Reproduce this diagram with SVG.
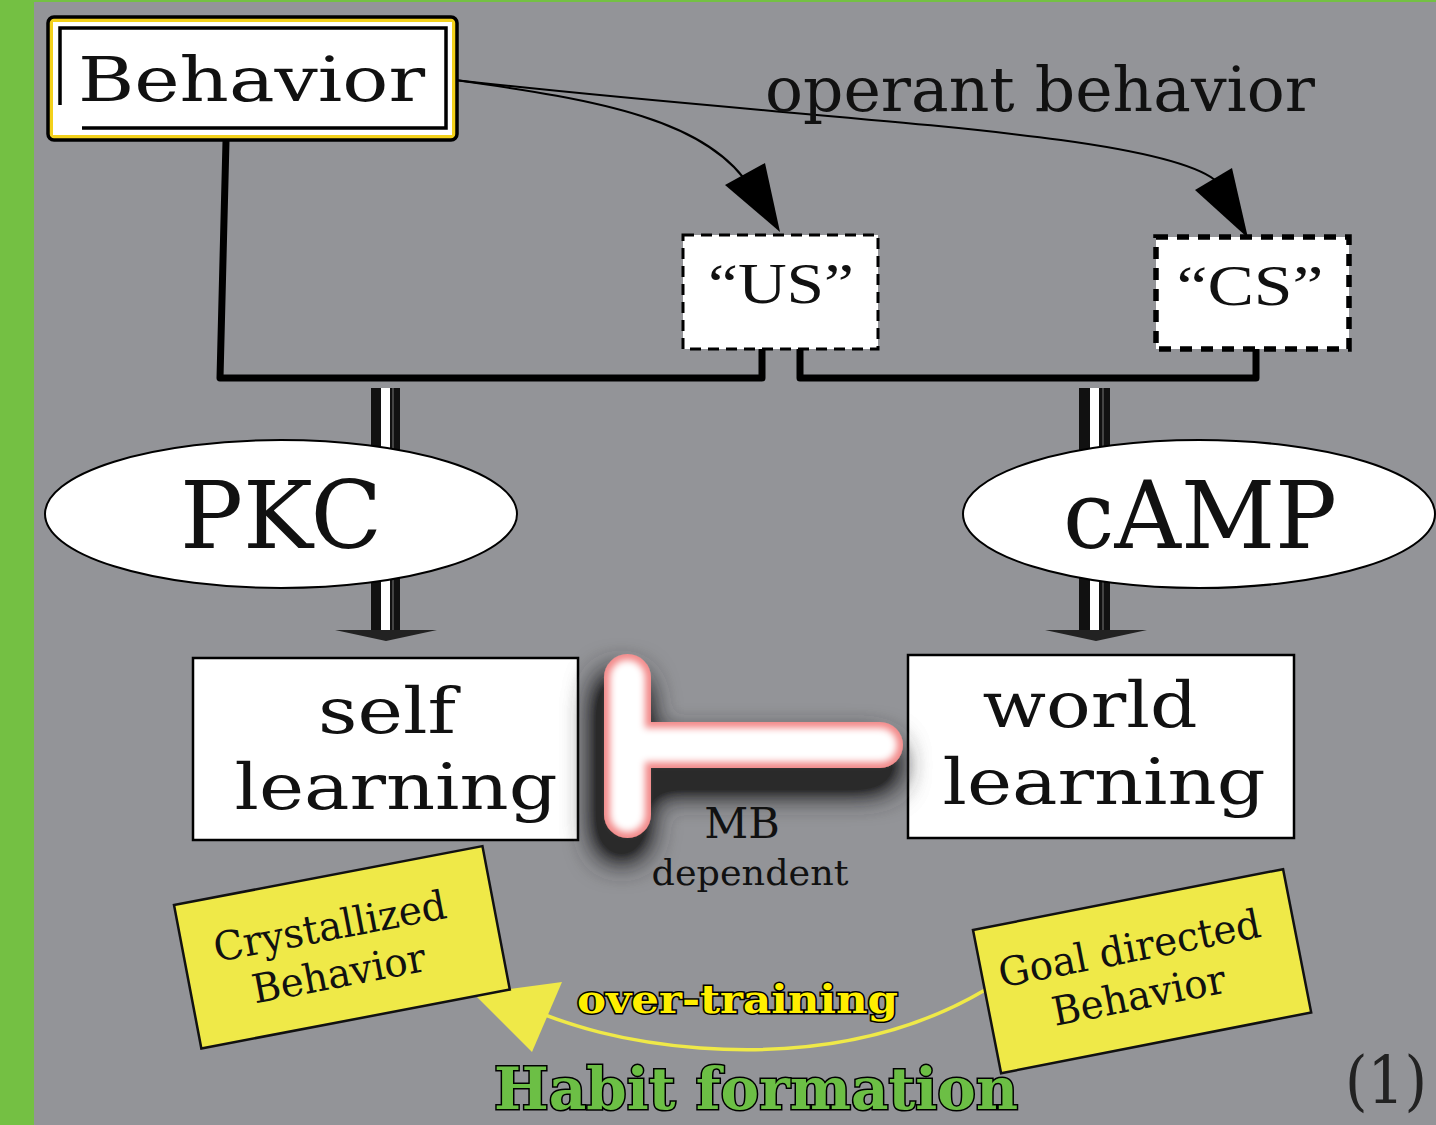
<svg xmlns="http://www.w3.org/2000/svg" width="1436" height="1125" viewBox="0 0 1436 1125">
<defs>
<style>
.serif{font-family:"DejaVu Serif","Liberation Serif",serif;fill:#111}
.times{font-family:"Liberation Serif","DejaVu Serif",serif;fill:#111}
.box{fill:#fff;stroke:#000;stroke-width:2.5}
.wire{fill:none;stroke:#000;stroke-width:7;stroke-linejoin:round;stroke-linecap:round}
.yel{fill:#efe948;stroke:#111;stroke-width:2.5}
</style>
<filter id="shadow" x="-60%" y="-60%" width="220%" height="220%">
<feGaussianBlur in="SourceAlpha" stdDeviation="16"/>
<feOffset dx="-6" dy="20" result="o"/>
<feComponentTransfer in="o" result="b"><feFuncA type="linear" slope="2.2"/></feComponentTransfer>
<feFlood flood-color="#2a2a2c" flood-opacity="1"/>
<feComposite in2="b" operator="in"/>
<feMerge><feMergeNode/><feMergeNode in="SourceGraphic"/></feMerge>
</filter>
<filter id="glow" x="-20%" y="-20%" width="140%" height="140%">
<feGaussianBlur stdDeviation="3.5"/>
</filter>
</defs>
<rect x="0" y="0" width="1436" height="1125" fill="#74c043"/>
<rect x="34" y="2" width="1402" height="1123" fill="#939498"/>

<g id="connectors">
<path class="wire" d="M226,141 L220,378 L762,378 L762,350"/>
<path class="wire" d="M800,350 L800,378 L1256,378 L1256,350"/>
<path d="M455,80 C600,100 710,120 752,190" fill="none" stroke="#000" stroke-width="2"/>
<polygon points="725,185 765,163 780,232" fill="#000"/>
<path d="M455,80 C800,120 1150,130 1215,180" fill="none" stroke="#000" stroke-width="2"/>
<polygon points="1195,190 1232,168 1248,238" fill="#000"/>
<g id="arrowPKC">
<rect x="371" y="388" width="29" height="242" fill="#111"/>
<rect x="381" y="388" width="9" height="242" fill="#fff"/>
<line x1="393" y1="388" x2="393" y2="630" stroke="#777" stroke-width="1"/>
<polygon points="335,630 437,630 386,641" fill="#222"/>
</g>
<g id="arrowCAMP">
<rect x="1079" y="388" width="31" height="242" fill="#111"/>
<rect x="1090" y="388" width="9" height="242" fill="#fff"/>
<line x1="1103" y1="388" x2="1103" y2="630" stroke="#777" stroke-width="1"/>
<polygon points="1045,630 1147,630 1096,641" fill="#222"/>
</g>
<path d="M985,990 C900,1040 800,1055 700,1048 C620,1042 570,1025 532,1010" fill="none" stroke="#efe948" stroke-width="3.5"/>
<polygon points="474,994 562,982 532,1052" fill="#efe948"/>
</g>

<g id="behavior">
<rect x="48" y="17" width="409" height="123" rx="6" fill="#f3d11b" stroke="#000" stroke-width="3.5"/>
<rect x="53" y="22" width="399" height="113" fill="#fff"/>
<path d="M60,105 L60,28 L446,28 L446,128 L82,128" fill="none" stroke="#000" stroke-width="3.5"/>
<text class="serif" x="78" y="101" font-size="62" textLength="347" lengthAdjust="spacingAndGlyphs">Behavior</text>
</g>

<text id="operant" class="serif" x="765" y="111" font-size="62" textLength="550" lengthAdjust="spacingAndGlyphs">operant behavior</text>

<g id="us">
<rect x="683" y="235" width="195" height="114" fill="#fff" stroke="#000" stroke-width="3" stroke-dasharray="11,7"/>
<text class="times" x="781" y="303" font-size="57" text-anchor="middle" textLength="146" lengthAdjust="spacingAndGlyphs">“US”</text>
</g>
<g id="cs">
<rect x="1156" y="237" width="193" height="112" fill="#fff" stroke="#000" stroke-width="5.5" stroke-dasharray="12,9"/>
<text class="times" x="1250" y="305" font-size="57" text-anchor="middle" textLength="147" lengthAdjust="spacingAndGlyphs">“CS”</text>
</g>

<g id="pkc">
<ellipse cx="281" cy="514" rx="236" ry="74" fill="#fff" stroke="#000" stroke-width="2"/>
<text class="serif" x="281" y="548" font-size="93" text-anchor="middle" textLength="202" lengthAdjust="spacingAndGlyphs">PKC</text>
</g>
<g id="camp">
<ellipse cx="1199" cy="514" rx="236" ry="74" fill="#fff" stroke="#000" stroke-width="2"/>
<text class="serif" x="1200" y="548" font-size="93" text-anchor="middle" textLength="274" lengthAdjust="spacingAndGlyphs">cAMP</text>
</g>

<g id="self">
<rect class="box" x="193" y="658" width="385" height="182"/>
<text class="serif" x="387" y="733" font-size="63" text-anchor="middle" textLength="138" lengthAdjust="spacingAndGlyphs">self</text>
<text class="serif" x="396" y="809" font-size="63" text-anchor="middle" textLength="323" lengthAdjust="spacingAndGlyphs">learning</text>
</g>
<g id="world">
<rect class="box" x="908" y="655" width="386" height="183"/>
<text class="serif" x="1090" y="727" font-size="63" text-anchor="middle" textLength="215" lengthAdjust="spacingAndGlyphs">world</text>
<text class="serif" x="1104" y="804" font-size="63" text-anchor="middle" textLength="323" lengthAdjust="spacingAndGlyphs">learning</text>
</g>

<g id="inhibit">
<g filter="url(#shadow)">
<rect x="604" y="654" width="47" height="184" rx="23.5" fill="#f28a8a"/>
<rect x="620" y="722" width="283" height="46" rx="23" fill="#f28a8a"/>
</g>
<g filter="url(#glow)">
<rect x="610" y="660" width="35" height="172" rx="17.5" fill="#fff"/>
<rect x="626" y="728" width="271" height="34" rx="17" fill="#fff"/>
</g>
<text class="serif" x="742" y="838" font-size="43" text-anchor="middle">MB</text>
<text class="serif" x="750" y="885" font-size="36" text-anchor="middle" textLength="197" lengthAdjust="spacingAndGlyphs">dependent</text>
</g>

<g id="crystallized" transform="translate(174,905) rotate(-10.8)">
<rect class="yel" x="0" y="0" width="314" height="146"/>
<text class="serif" x="149" y="64" font-size="40" text-anchor="middle" textLength="236" lengthAdjust="spacingAndGlyphs">Crystallized</text>
<text class="serif" x="149" y="112" font-size="40" text-anchor="middle" textLength="176" lengthAdjust="spacingAndGlyphs">Behavior</text>
</g>

<g id="goal" transform="translate(973,930) rotate(-11.1)">
<rect class="yel" x="0" y="0" width="316" height="146"/>
<text class="serif" x="150" y="62" font-size="40" text-anchor="middle" textLength="266" lengthAdjust="spacingAndGlyphs">Goal directed</text>
<text class="serif" x="150" y="110" font-size="40" text-anchor="middle" textLength="176" lengthAdjust="spacingAndGlyphs">Behavior</text>
</g>

<text id="overtraining" x="577" y="1013" font-family="DejaVu Serif, serif" font-weight="bold" font-size="40" fill="#ffef00" stroke="#000" stroke-width="3" paint-order="stroke" textLength="321" lengthAdjust="spacingAndGlyphs">over-training</text>
<text id="habit" x="494" y="1109" font-family="DejaVu Serif, serif" font-weight="bold" font-size="58" fill="#6cbf45" stroke="#000" stroke-width="3" paint-order="stroke" textLength="524" lengthAdjust="spacingAndGlyphs">Habit formation</text>
<text id="num" x="1345" y="1103" font-family="DejaVu Serif, serif" font-size="66" fill="#222" textLength="82" lengthAdjust="spacingAndGlyphs">(1)</text>
</svg>
